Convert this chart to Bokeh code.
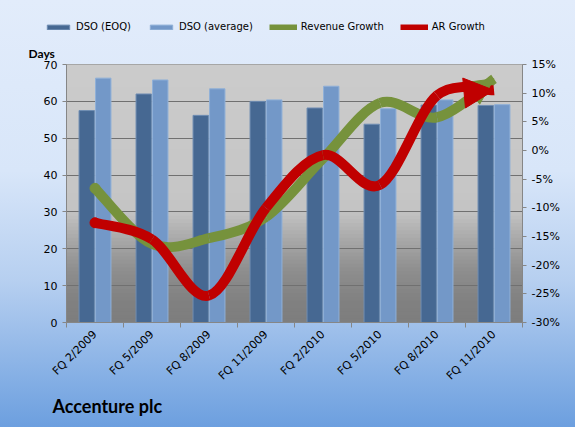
import numpy as np
from bokeh.plotting import figure
from bokeh.layouts import column
from bokeh.models import (Range1d, LinearAxis, FixedTicker, Legend, LegendItem,
                          Title, Arrow, NormalHead, ColumnDataSource)
from bokeh.embed import file_html
from bokeh.resources import INLINE

quarters = ["FQ 2/2009", "FQ 5/2009", "FQ 8/2009", "FQ 11/2009",
            "FQ 2/2010", "FQ 5/2010", "FQ 8/2010", "FQ 11/2010"]
dso_eoq = [57.5, 62.0, 56.2, 60.0, 58.2, 53.8, 59.0, 58.9]
dso_avg = [66.3, 65.8, 63.4, 60.4, 64.1, 58.0, 60.4, 59.1]
revenue_growth = [-6.6, -16.3, -15.3, -11.6, -1.4, 8.3, 5.8, 12.5]
ar_growth = [-12.6, -15.5, -25.3, -10.0, -0.8, -6.0, 9.6, 10.5]
series_names = ["DSO (EOQ)", "DSO (average)", "Revenue Growth", "AR Growth"]
days_ticks = [0, 10, 20, 30, 40, 50, 60, 70]
pct_ticks = [-30, -25, -20, -15, -10, -5, 0, 5, 10, 15]

n = len(quarters)
centers = np.arange(n) + 0.5

FONT = "DejaVu Sans"
C_EOQ = "#466892"
C_AVG = "#7398c8"
GREEN = "#76923c"
RED = "#c00000"

# ---------------- legend strip ----------------
LEG_H = 40
lf = figure(width=575, height=LEG_H, output_backend="svg", toolbar_location=None,
            x_range=Range1d(0, 1), y_range=Range1d(0, 1),
            x_axis_location=None, y_axis_location=None,
            min_border=0, title=None)
if "frame_align" in lf.properties():
    lf.frame_align = False
lf.grid.visible = False
lf.outline_line_color = None
lf.background_fill_color = None
lf.border_fill_alpha = 0
# swatch renderers (their single point lies outside the strip's visible range)
l1 = lf.vbar(x=[5], top=[5], width=0.1, fill_color=C_EOQ, line_color="#6f8db3")
l2 = lf.vbar(x=[5], top=[5], width=0.1, fill_color=C_AVG, line_color="#8fb0d8")
l3 = lf.line(x=[5, 6], y=[5, 5], line_color=GREEN, line_width=6)
l4 = lf.line(x=[5, 6], y=[5, 5], line_color=RED, line_width=6)
legend = Legend(items=[LegendItem(label=s, renderers=[r])
                       for s, r in zip(series_names, [l1, l2, l3, l4])],
                orientation="horizontal", location=(44, 8),
                background_fill_alpha=0, border_line_color=None,
                label_text_font=FONT, label_text_font_size="10px",
                label_text_color="#000000",
                glyph_width=28, glyph_height=6, spacing=16, label_standoff=4,
                padding=0, margin=0)
lf.add_layout(legend)

# ---------------- main chart ----------------
p = figure(width=575, height=427 - LEG_H, output_backend="svg", toolbar_location=None,
           x_range=Range1d(0, n), y_range=Range1d(0, 70),
           min_border_left=66, min_border_right=53, min_border_top=62 - LEG_H,
           min_border_bottom=105)
p.title.text = "Days"
p.title.align = "left"
p.title.offset = -38
p.title.standoff = 7
p.title.text_font = "Lato"
p.title.text_font_style = "bold"
p.title.text_font_size = "12px"
p.title.text_color = "#000000"
p.border_fill_alpha = 0
p.background_fill_color = None
p.outline_line_color = "#9a9a9a"
p.extra_y_ranges = {"pct": Range1d(-30, 15)}

# plot-area gradient background
yb = np.linspace(0, 70, 71)[:-1]
yt = yb + 1.6
frac = (70 - (yb + 0.5)) / 70.0  # 0 top, 1 bottom
stops = np.array([0.0, 0.5, 0.57, 0.68, 0.8, 0.92, 1.0])
vals = np.array([204, 198, 196, 168, 142, 129, 126])
g = np.interp(frac, stops, vals).astype(int)
cols = ["#%02x%02x%02x" % (v, v, v) for v in g]
bg = p.quad(left=0, right=n, bottom=yb, top=np.minimum(yt, 70), fill_color=cols,
            line_color=None)
bg.level = "image"

# bars
p.vbar(x=centers - 0.145, top=dso_eoq, width=0.27, fill_color=C_EOQ,
       line_color="#6f8db3", line_width=1)
p.vbar(x=centers + 0.145, top=dso_avg, width=0.27, fill_color=C_AVG,
       line_color="#8fb0d8", line_width=1)


def bezier_parts(xs, ys):
    xs = list(xs); ys = list(ys); m = len(xs)
    out = {k: [] for k in ["x0", "y0", "x1", "y1", "cx0", "cy0", "cx1", "cy1"]}
    for i in range(m - 1):
        im = max(i - 1, 0); ip = min(i + 2, m - 1)
        out["x0"].append(xs[i]); out["y0"].append(ys[i])
        out["x1"].append(xs[i + 1]); out["y1"].append(ys[i + 1])
        out["cx0"].append(xs[i] + (xs[i + 1] - xs[im]) / 6)
        out["cy0"].append(ys[i] + (ys[i + 1] - ys[im]) / 6)
        out["cx1"].append(xs[i + 1] - (xs[ip] - xs[i]) / 6)
        out["cy1"].append(ys[i + 1] - (ys[ip] - ys[i]) / 6)
    return out


rev = bezier_parts(centers, revenue_growth)
ar = bezier_parts(centers, ar_growth)
p.bezier(source=ColumnDataSource(rev), x0="x0", y0="y0", x1="x1", y1="y1",
         cx0="cx0", cy0="cy0", cx1="cx1", cy1="cy1", line_color=GREEN,
         line_width=10, line_cap="butt", y_range_name="pct")
p.scatter(x=[centers[0]], y=[revenue_growth[0]], size=10, color=GREEN, y_range_name="pct")
p.add_layout(Arrow(end=NormalHead(size=26, fill_color=GREEN, line_color=GREEN),
                   x_start=rev["cx1"][-1], y_start=rev["cy1"][-1],
                   x_end=rev["x1"][-1], y_end=rev["y1"][-1],
                   line_alpha=0, y_range_name="pct"))
p.bezier(source=ColumnDataSource(ar), x0="x0", y0="y0", x1="x1", y1="y1",
         cx0="cx0", cy0="cy0", cx1="cx1", cy1="cy1", line_color=RED,
         line_width=10, line_cap="butt", y_range_name="pct")
p.scatter(x=[centers[0]], y=[ar_growth[0]], size=10, color=RED, y_range_name="pct")
p.add_layout(Arrow(end=NormalHead(size=30, fill_color=RED, line_color=RED),
                   x_start=ar["cx1"][-1], y_start=ar["cy1"][-1],
                   x_end=ar["x1"][-1], y_end=ar["y1"][-1],
                   line_alpha=0, y_range_name="pct"))

# axes
p.xaxis.ticker = FixedTicker(ticks=list(centers), minor_ticks=list(np.arange(n + 1)))
p.xaxis.major_label_overrides = {float(c): q for c, q in zip(centers, quarters)}
p.xaxis.major_label_orientation = np.pi / 4
p.xaxis.major_tick_out = 0
p.xaxis.major_tick_in = 0
p.xaxis.minor_tick_out = 5
p.xaxis.minor_tick_in = 0
p.yaxis.ticker = FixedTicker(ticks=days_ticks)
p.yaxis.major_tick_out = 4
p.yaxis.major_tick_in = 0

right = LinearAxis(y_range_name="pct", ticker=FixedTicker(ticks=pct_ticks))
right.major_label_overrides = {t: "%d%%" % t for t in pct_ticks}
right.major_tick_out = 4
right.major_tick_in = 0
p.add_layout(right, "right")

for ax in [p.xaxis[0], p.yaxis[0], right]:
    ax.axis_line_color = "#868686"
    ax.major_tick_line_color = "#868686"
    ax.minor_tick_line_color = "#868686" if ax is p.xaxis[0] else None
    ax.major_label_text_font = FONT
    ax.major_label_text_font_size = "11px"
    ax.major_label_text_color = "#000000"

p.xgrid.grid_line_color = None
p.ygrid.ticker = FixedTicker(ticks=days_ticks)
p.ygrid.grid_line_color = "#707070"
p.ygrid.grid_line_width = 1

p.add_layout(Title(text="Accenture plc", align="left", offset=-14, standoff=4,
                   text_color="#000000", text_font="Lato", text_font_style="bold",
                   text_font_size="18px"), "below")

layout = column(lf, p, spacing=0)
layout.styles = {"background-image":
                 "linear-gradient(to bottom, #e2ecfb 0%, #d8e6f9 40%, #b6cff0 66%, #6c9fdf 100%)"}

open("out.html", "w").write(file_html(layout, INLINE))
